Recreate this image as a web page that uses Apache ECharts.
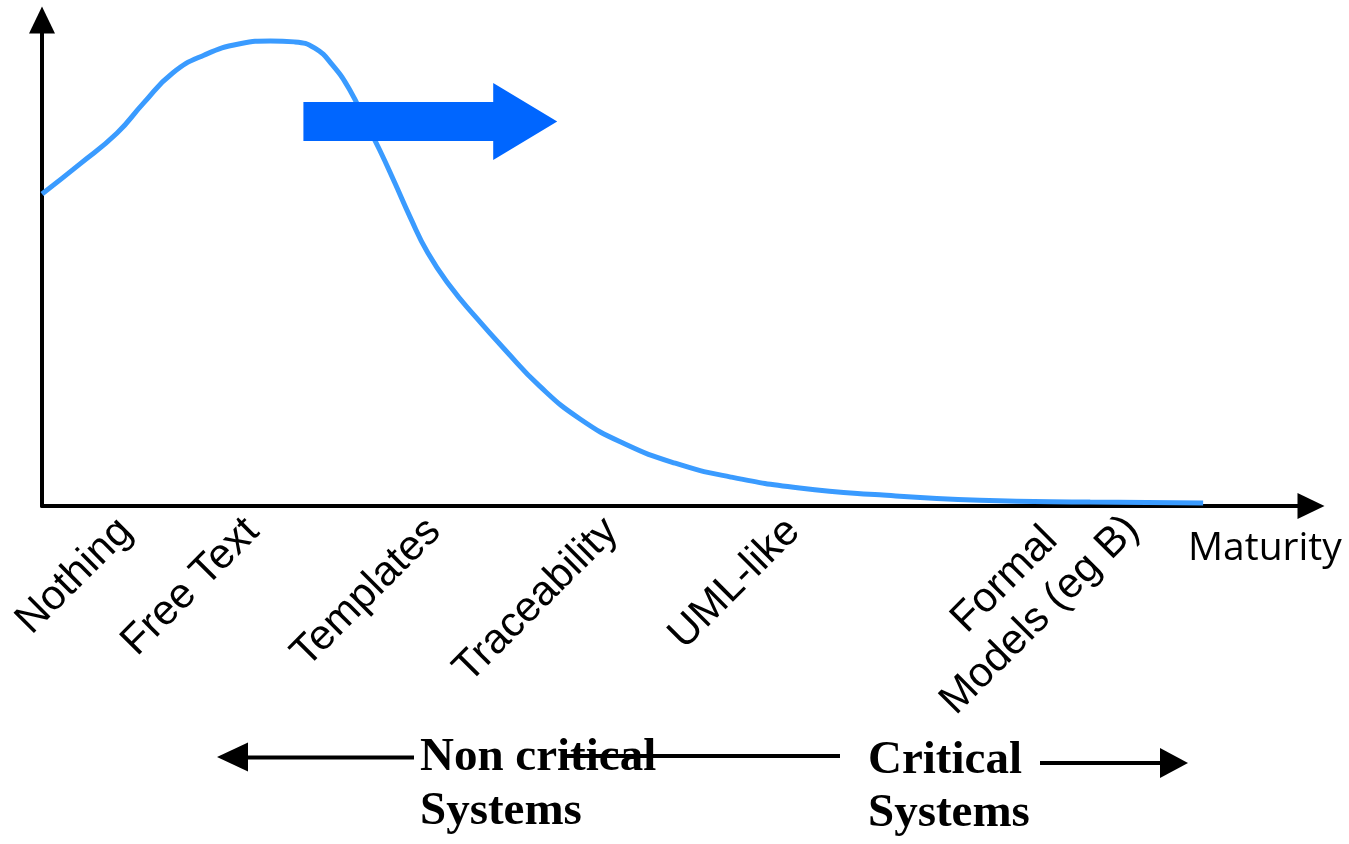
<!DOCTYPE html>
<html>
<head>
<meta charset="utf-8">
<script src="https://cdn.jsdelivr.net/npm/echarts@6/dist/echarts.min.js"></script>
<style>
html,body{margin:0;padding:0;background:#fff;}
#chart{width:1349px;height:844px;}
</style>
</head>
<body>
<div id="chart"></div>
<script>
// ---- data ----
const categories = ['Nothing', 'Free Text', 'Templates', 'Traceability', 'UML-like', 'Formal\nModels (eg B)'];
const categoryPos = [6.6, 16.6, 30.9, 44.9, 59.2, 86.1];
const curveX = [0, 3.0, 5.9, 8.0, 10.3, 12.8, 15.6, 18.0, 19.9, 21.5, 22.9, 24.3, 25.5, 26.6, 27.8, 29.0, 30.4, 32.2, 34.1, 36.5, 39.2, 42.4, 45.9, 49.9, 54.2, 59.7, 66.0, 73.9, 82.6, 91.5];
const curveY = [64.2, 70.4, 76.7, 82.9, 89.1, 92.8, 95.1, 95.7, 95.5, 94.2, 90.7, 85.4, 79.0, 73.3, 66.5, 59.5, 52.1, 45.1, 39.1, 32.1, 24.7, 17.9, 12.8, 8.8, 6.0, 3.7, 2.3, 1.2, 0.8, 0.6];
const arrowFrom = [20.6, 79.1];
const arrowTo = [40.6, 79.1];
const axisName = 'Maturity';
const leftNote = ['Non critical', 'Systems'];
const rightNote = ['Critical', 'Systems'];

const curveData = curveX.map((x, i) => [x, curveY[i]]);

const sansFont = 'Liberation Sans, Arial, sans-serif';
const serifBold = 'bold 47px "Liberation Serif", "Times New Roman", serif';

const chart = echarts.init(document.getElementById('chart'), null, {renderer: 'canvas'});
chart.setOption({
  animation: false,
  backgroundColor: '#ffffff',
  grid: {left: 42, right: 38, top: 20, bottom: 338, containLabel: false, outerBoundsMode: 'none'},
  xAxis: {
    type: 'value', min: 0, max: 100,
    name: axisName, nameLocation: 'end', nameGap: -123, nameMoveOverlap: false,
    nameTextStyle: {fontSize: 39, fontFamily: 'Open Sans', color: '#000', verticalAlign: 'top', padding: [23, 0, 0, 0]},
    axisLine: {show: true, onZero: false, symbol: ['none', 'triangle'], symbolSize: [26, 27], lineStyle: {color: '#000', width: 4}},
    axisTick: {show: false},
    splitLine: {show: false},
    axisLabel: {
      customValues: categoryPos,
      rotate: 45, margin: 19, fontSize: 42, fontFamily: sansFont, color: '#000',
      formatter: function (value) {
        let best = 0;
        categoryPos.forEach((p, i) => { if (Math.abs(p - value) < Math.abs(categoryPos[best] - value)) best = i; });
        const lines = categories[best].split('\n');
        if (lines.length === 1) return lines[0];
        return lines.map((l, i) => (i === lines.length - 1 ? '{last|' + l + '}' : '{mid|' + l + '}')).join('\n');
      },
      rich: {
        mid: {fontSize: 42, fontFamily: sansFont, color: '#000', align: 'center', lineHeight: 50},
        last: {fontSize: 42, fontFamily: sansFont, color: '#000', align: 'center', height: 50, padding: [0, 0, 56, 0]}
      }
    }
  },
  yAxis: {
    type: 'value', min: 0, max: 100,
    axisLine: {show: true, onZero: false, symbol: ['none', 'triangle'], symbolSize: [26, 27], lineStyle: {color: '#000', width: 4}},
    axisTick: {show: false},
    splitLine: {show: false},
    axisLabel: {show: false}
  },
  series: [
    {
      type: 'line', data: curveData, smooth: 0.5, symbol: 'none', z: 2,
      lineStyle: {color: '#3a9bff', width: 5}
    },
    {
      type: 'custom', z: 5, clip: false,
      data: [[arrowFrom[0], arrowFrom[1], arrowTo[0], arrowTo[1]]],
      renderItem: function (params, api) {
        const p0 = api.coord([api.value(0), api.value(1)]);
        const p1 = api.coord([api.value(2), api.value(3)]);
        const shaftH = 19.5, headH = 38.5, headL = 64;
        const y = p0[1];
        const hx = p1[0] - headL;
        return {
          type: 'polygon',
          shape: {points: [[p0[0], y - shaftH], [hx, y - shaftH], [hx, y - headH], [p1[0], y], [hx, y + headH], [hx, y + shaftH], [p0[0], y + shaftH]]},
          style: {fill: '#0066ff'}
        };
      }
    }
  ],
  graphic: [
    {type: 'line', shape: {x1: 246, y1: 757.5, x2: 414, y2: 757.5}, style: {stroke: '#000', lineWidth: 4}, z: 10},
    {type: 'polygon', shape: {points: [[217, 757], [248, 742.5], [248, 771.5]]}, style: {fill: '#000'}, z: 10},
    {type: 'line', shape: {x1: 563, y1: 756, x2: 840, y2: 756}, style: {stroke: '#000', lineWidth: 4}, z: 10},
    {type: 'line', shape: {x1: 1040, y1: 763, x2: 1162, y2: 763}, style: {stroke: '#000', lineWidth: 4}, z: 10},
    {type: 'polygon', shape: {points: [[1188, 763], [1160, 748], [1160, 778]]}, style: {fill: '#000'}, z: 10},
    {type: 'text', x: 420, y: 757.5, style: {text: leftNote[0], font: serifBold, fill: '#000', verticalAlign: 'middle', align: 'left'}, z: 11},
    {type: 'text', x: 420, y: 811.5, style: {text: leftNote[1], font: serifBold, fill: '#000', verticalAlign: 'middle', align: 'left'}, z: 11},
    {type: 'text', x: 868, y: 761, style: {text: rightNote[0], font: serifBold, fill: '#000', verticalAlign: 'middle', align: 'left'}, z: 11},
    {type: 'text', x: 868, y: 813.5, style: {text: rightNote[1], font: serifBold, fill: '#000', verticalAlign: 'middle', align: 'left'}, z: 11}
  ]
});
</script>
</body>
</html>
